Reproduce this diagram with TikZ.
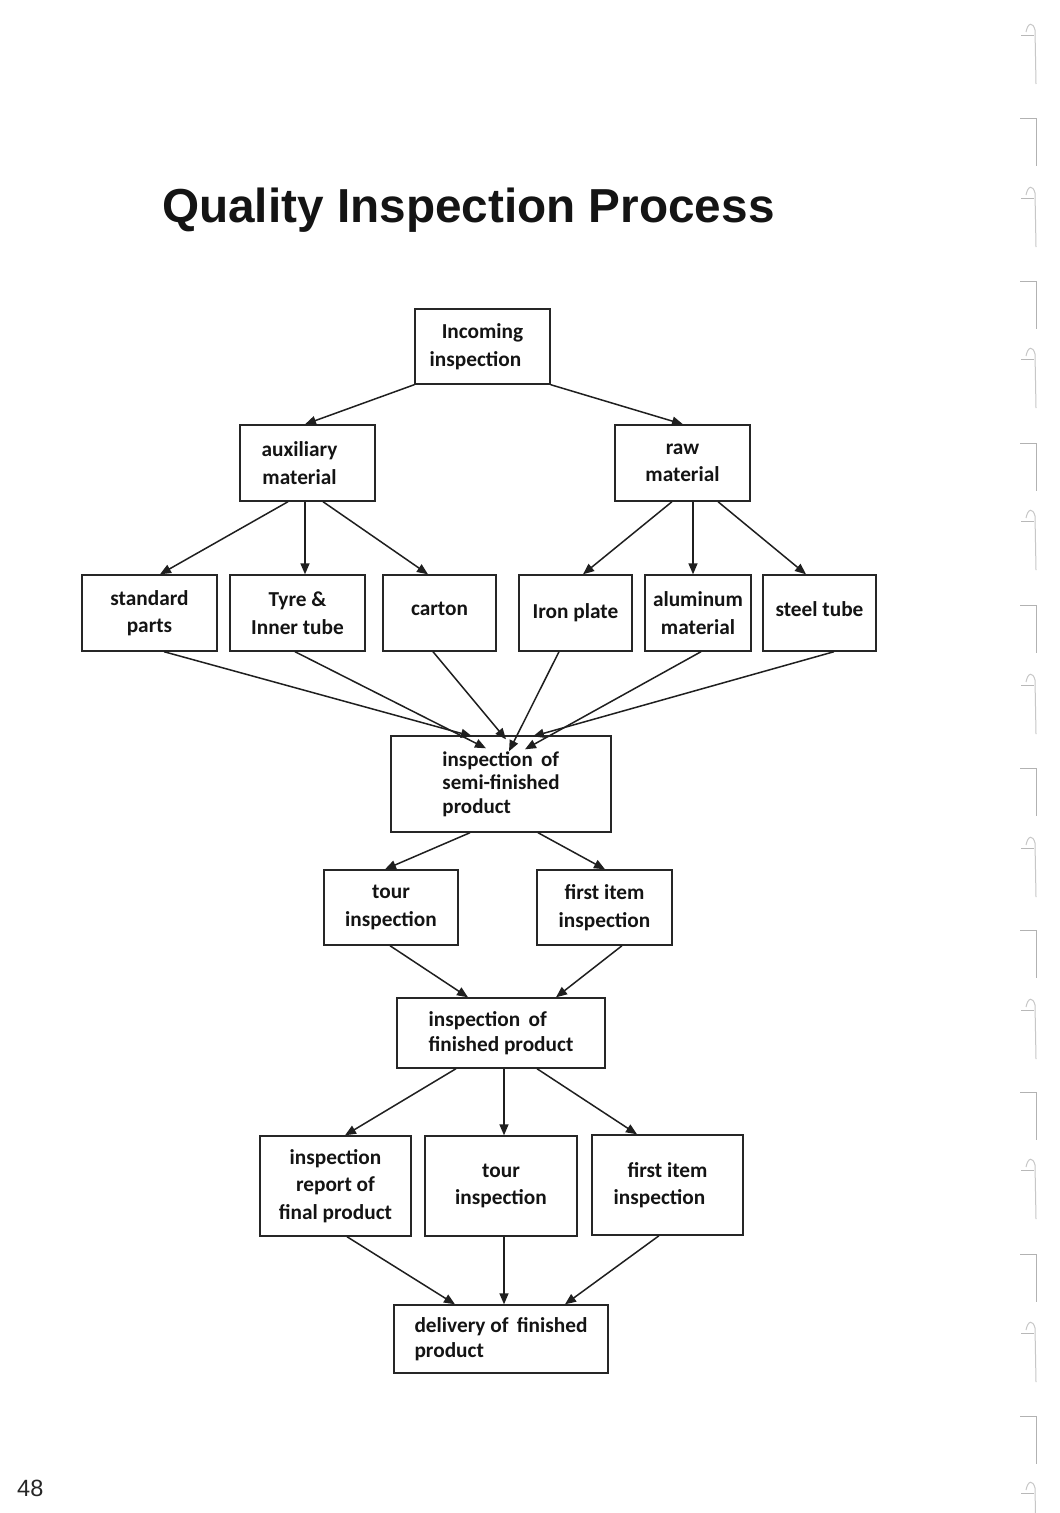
\documentclass[tikz,border=0pt]{standalone}
\usepackage{fontspec}
\setmainfont{Carlito}
\newfontfamily\titlefont{Liberation Sans}
\usetikzlibrary{arrows.meta}
\begin{document}
\begin{tikzpicture}[x=1pt,y=-1pt,
  box/.style={draw=black!85, line width=1.4pt, rectangle, inner sep=0pt, align=center,
    font=\bfseries\fontsize{21.3}{27.5}\selectfont, text=black!92},
  conn/.style={draw=black!88, line width=1.5pt, -{Triangle[length=11pt,width=9pt]}},
  binder/.style={draw=black!30, line width=1pt}]
\useasboundingbox (0,0) rectangle (1060,1513);
\fill[white] (0,0) rectangle (1060,1513);

\node[anchor=base west, font=\titlefont\bfseries\fontsize{47.7}{50}\selectfont, text=black!92, inner sep=0pt] (title) at (162,222) {Quality Inspection Process};
\node[anchor=base west, font=\titlefont\fontsize{23.5}{26}\selectfont, text=black!85, inner sep=0pt] (page) at (17,1496) {48};

% boxes
\node[box, minimum width=135pt, minimum height=75pt] (inc) at (482.5,346.5) {Incoming\\\hspace*{-14pt}inspection};
\node[box, minimum width=135pt, minimum height=76pt] (aux) at (307.5,463) {auxiliary\hspace*{16pt}\\material\hspace*{16pt}};
\node[box, minimum width=135pt, minimum height=76pt] (raw) at (682.5,463) {raw\\material};
\node[box, minimum width=135pt, minimum height=76pt] (std) at (149.5,613) {standard\\parts};
\node[box, minimum width=135pt, minimum height=76pt] (tyre) at (297.5,613) {Tyre \&\\Inner tube};
\node[box, minimum width=113pt, minimum height=76pt, text depth=8pt] (carton) at (439.5,613) {carton};
\node[box, minimum width=113pt, minimum height=76pt, text depth=4pt] (iron) at (575.5,613) {Iron plate};
\node[box, minimum width=106pt, minimum height=76pt] (alu) at (698,613) {aluminum\\material};
\node[box, minimum width=113pt, minimum height=76pt, text depth=8pt] (steel) at (819.5,613) {steel tube};
\node[box, minimum width=220pt, minimum height=96pt, align=left, font=\bfseries\fontsize{21}{23.5}\selectfont] (semi) at (501,784) {inspection\, of\\semi-finished\\product};
\node[box, minimum width=134pt, minimum height=75pt] (tour) at (391,907.5) {tour\\inspection};
\node[box, minimum width=135pt, minimum height=75pt] (first) at (604.5,907.5) {first item\\inspection};
\node[box, minimum width=208pt, minimum height=70pt, align=left, font=\bfseries\fontsize{21.3}{25.5}\selectfont] (fin) at (501,1033) {inspection\, of\\finished product};
\node[box, minimum width=151pt, minimum height=100pt] (rep) at (335.5,1186) {inspection\\report of\\final product};
\node[box, minimum width=152pt, minimum height=100pt] (tour2) at (501,1186) {tour\\inspection};
\node[box, minimum width=151pt, minimum height=100pt] (first2) at (667.5,1185) {first item\\inspection\hspace*{16pt}};
\node[box, minimum width=214pt, minimum height=68pt, align=left, font=\bfseries\fontsize{21.3}{25}\selectfont] (del) at (501,1339) {delivery of\, finished\\product};

% connectors
\draw[conn] (inc.south west) -- ([xshift=-2.5pt]aux.north);
\draw[conn] (inc.south east) -- ([xshift=0.5pt]raw.north);
\draw[conn] ([xshift=-19.5pt]aux.south) -- ([xshift=10.5pt]std.north);
\draw[conn] ([xshift=-2.5pt]aux.south) -- ([xshift=7.5pt]tyre.north);
\draw[conn] ([xshift=15.5pt]aux.south) -- ([xshift=-11.5pt]carton.north);
\draw[conn] ([xshift=-10.5pt]raw.south) -- ([xshift=7.5pt]iron.north);
\draw[conn] ([xshift=10.5pt]raw.south) -- ([xshift=-5pt]alu.north);
\draw[conn] ([xshift=35.5pt]raw.south) -- ([xshift=-13.5pt]steel.north);

\draw[conn] ([xshift=14.5pt]std.south) -- ([xshift=-29pt,yshift=-1pt]semi.north);
\draw[conn] ([xshift=-2.5pt]tyre.south) -- ([xshift=-15pt,yshift=-13pt]semi.north);
\draw[conn] ([xshift=-6.5pt]carton.south) -- ([xshift=5pt,yshift=-4pt]semi.north);
\draw[conn] ([xshift=-16.5pt]iron.south) -- ([xshift=8pt,yshift=-16pt]semi.north);
\draw[conn] ([xshift=3pt]alu.south) -- ([xshift=24pt,yshift=-14pt]semi.north);
\draw[conn] ([xshift=14.5pt]steel.south) -- ([xshift=32pt,yshift=-1pt]semi.north);

\draw[conn] ([xshift=-31pt]semi.south) -- ([xshift=-6pt]tour.north);
\draw[conn] ([xshift=37pt]semi.south) -- ([xshift=0.5pt]first.north);
\draw[conn] ([xshift=-1pt]tour.south) -- ([xshift=-33pt]fin.north);
\draw[conn] ([xshift=17.5pt]first.south) -- ([xshift=55pt]fin.north);

\draw[conn] ([xshift=-45pt]fin.south) -- ([xshift=9.5pt]rep.north);
\draw[conn] ([xshift=3pt]fin.south) -- ([xshift=3pt]tour2.north);
\draw[conn] ([xshift=36pt]fin.south) -- ([xshift=-30.5pt]first2.north);
\draw[conn] ([xshift=11.5pt]rep.south) -- ([xshift=-46pt]del.north);
\draw[conn] ([xshift=3pt]tour2.south) -- ([xshift=3pt]del.north);
\draw[conn] ([xshift=-8.5pt]first2.south) -- ([xshift=64pt]del.north);

% binder marks on the right edge
\foreach \t in {118,281,443,605,768,930,1092,1254,1416}{
  \draw[binder] (1020,\t) -- (1036,\t) -- (1036,\t+48);
}
\foreach \c in {22,185,346,508,672,835,997,1157,1320,1480}{
  \draw[binder, draw=black!22] (1026,\c+10) .. controls (1028,\c) and (1033,\c) .. (1035,\c+8) -- (1036,\c+62);
  \draw[binder, draw=black!28] (1021,\c+13) -- (1034,\c+13);
}
\end{tikzpicture}
\end{document}
